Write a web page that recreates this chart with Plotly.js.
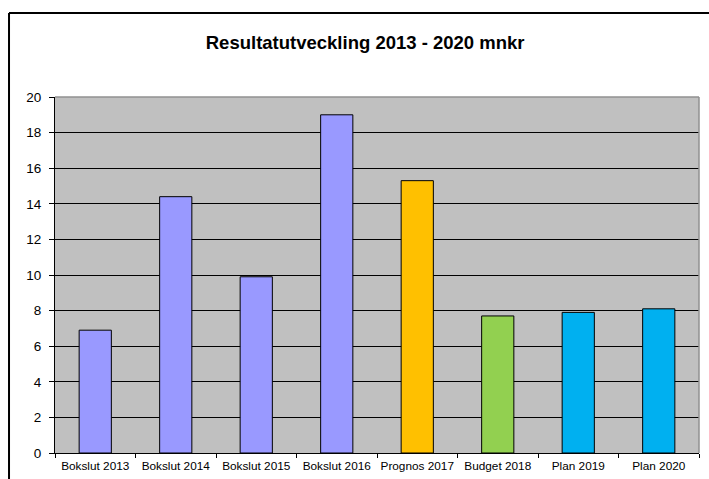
<!DOCTYPE html>
<html>
<head>
<meta charset="utf-8">
<script src="https://cdn.plot.ly/plotly-3.0.1.min.js"></script>
<style>
html,body{margin:0;padding:0;background:#fff;}
#chart{width:709px;height:479px;}
</style>
</head>
<body>
<div id="chart"></div>
<script>
const categories = ["Bokslut 2013","Bokslut 2014","Bokslut 2015","Bokslut 2016","Prognos 2017","Budget 2018","Plan 2019","Plan 2020"];
const values = [6.9, 14.4, 9.9, 19.0, 15.3, 7.7, 7.9, 8.1];
const barColors = ["#9999ff","#9999ff","#9999ff","#9999ff","#ffc000","#92d050","#00b0f0","#00b0f0"];
const yTicks = [0,2,4,6,8,10,12,14,16,18,20];

const trace = {
  type: "bar",
  x: categories,
  y: values,
  marker: {color: barColors, line: {color: "#000000", width: 1}},
  hoverinfo: "x+y"
};

const layout = {
  width: 709, height: 479,
  margin: {l: 55, r: 10, t: 97, b: 26, pad: 0},
  paper_bgcolor: "#ffffff",
  plot_bgcolor: "#c0c0c0",
  bargap: 0.6,
  showlegend: false,
  font: {family: "Arial, 'Liberation Sans', sans-serif", color: "#000"},
  title: {
    text: "<b>Resultatutveckling 2013 - 2020 mnkr</b>",
    font: {size: 18.5, family: "Arial, 'Liberation Sans', sans-serif", color: "#000"},
    x: 0.515, xanchor: "center", y: 0.912, yanchor: "middle", xref: "container", yref: "container"
  },
  xaxis: {
    type: "category",
    showline: true, linecolor: "#000", linewidth: 1,
    ticks: "outside", tickson: "boundaries", ticklen: 4, tickcolor: "#000",
    tickfont: {size: 11.8, color: "#000"},
    tickangle: 0,
    ticklabelstandoff: 2,
    showgrid: false, zeroline: false, fixedrange: true
  },
  yaxis: {
    range: [0, 20],
    tickvals: yTicks,
    ticktext: yTicks.map(String),
    showline: true, linecolor: "#000", linewidth: 1,
    ticks: "outside", ticklen: 5, tickcolor: "#000",
    tickfont: {size: 13.5, color: "#000"},
    ticklabelstandoff: 5,
    showgrid: true, gridcolor: "#000", gridwidth: 1,
    zeroline: false, fixedrange: true
  },
  shapes: [
    {type: "line", xref: "paper", yref: "paper", x0: 0, x1: 1, y0: 1, y1: 1, line: {color: "#909090", width: 1.5}},
    {type: "line", xref: "paper", yref: "paper", x0: 1, x1: 1, y0: 0, y1: 1, line: {color: "#909090", width: 1.5}},
    {type: "line", xref: "paper", yref: "paper", x0: -0.0714, x1: 1.2, y0: 1.236, y1: 1.236, line: {color: "#000", width: 2}},
    {type: "line", xref: "paper", yref: "paper", x0: -0.0714, x1: -0.0714, y0: -0.2, y1: 1.236, line: {color: "#000", width: 2}}
  ]
};

Plotly.newPlot("chart", [trace], layout, {displayModeBar: false, staticPlot: true});
</script>
</body>
</html>
